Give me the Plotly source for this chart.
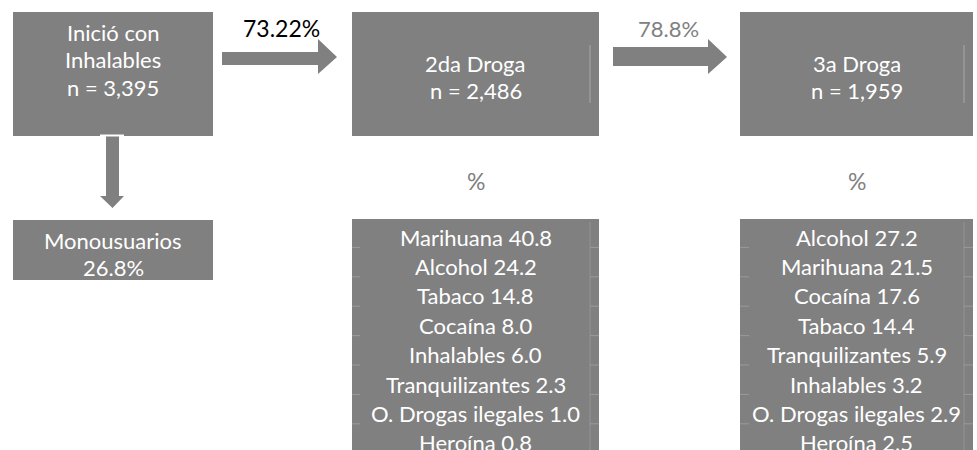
import plotly.graph_objects as go

# ---- data ----
start_lines = ["Inició con", "Inhalables", "n = 3,395"]
second_lines = ["2da Droga", "n = 2,486"]
third_lines = ["3a Droga", "n = 1,959"]
mono_lines = ["Monousuarios", "26.8%"]
pct_to_second = "73.22%"
pct_to_third = "78.8%"
second_drugs = ["Marihuana", "Alcohol", "Tabaco", "Cocaína", "Inhalables",
                "Tranquilizantes", "O. Drogas ilegales", "Heroína"]
second_vals = [40.8, 24.2, 14.8, 8.0, 6.0, 2.3, 1.0, 0.8]
third_drugs = ["Alcohol", "Marihuana", "Cocaína", "Tabaco", "Tranquilizantes",
               "Inhalables", "O. Drogas ilegales", "Heroína"]
third_vals = [27.2, 21.5, 17.6, 14.4, 5.9, 3.2, 2.9, 2.5]

W, H = 977, 450
BOX = "#808080"
FONT = "Lato"
FS = 22

fig = go.Figure()
fig.add_trace(go.Scatter(x=[0, W], y=[0, H], mode="markers",
                         marker=dict(opacity=0), hoverinfo="skip", showlegend=False))

shapes = []
ann = []

def rect(x0, y0, x1, y1, color=BOX):
    shapes.append(dict(type="rect", x0=x0, y0=y0, x1=x1, y1=y1, xref="x", yref="y",
                       fillcolor=color, line=dict(width=0), layer="below"))

def line(x0, y0, x1, y1, color="#a8a8a8", w=1):
    shapes.append(dict(type="line", x0=x0, y0=y0, x1=x1, y1=y1, xref="x", yref="y",
                       line=dict(color=color, width=w)))

def text(x, y, s, color="white", size=FS):
    ann.append(dict(x=x, y=y, xref="x", yref="y", text=s, showarrow=False,
                    font=dict(family=FONT, size=size, color=color),
                    xanchor="center", yanchor="middle"))

def path(d, color=BOX):
    shapes.append(dict(type="path", path=d, xref="x", yref="y",
                       fillcolor=color, line=dict(width=0)))

# Box 1
rect(13, 12, 213, 136)
for i, s in enumerate(start_lines):
    text(113, 32 + i * 27.5, s)

# Down arrow
path("M 106 136 L 119 136 L 119 196 L 124 196 L 112.5 208 L 100 196 L 106 196 Z")
line(100, 135.5, 124, 135.5, color="white", w=2)

# Monousuarios box
rect(13, 220, 213, 280)
for i, s in enumerate(mono_lines):
    text(113, 240 + i * 27, s)

# Right arrow 1
path("M 222 52 L 318 52 L 318 39 L 337 57 L 318 74 L 318 65 L 222 65 Z")
text(281, 28, pct_to_second, color="black", size=23)

# Box 2
rect(352, 12, 599, 136)
line(590, 45, 590, 103)
for i, s in enumerate(second_lines):
    text(475.5, 63 + i * 27, s)
text(475.5, 181, "%", color="#808080", size=23)

# Right arrow 2
path("M 613 47 L 708 47 L 708 39 L 727 57 L 708 74 L 708 66 L 613 66 Z")
text(668, 28, pct_to_third, color="#808080")

# Box 3
rect(740, 12, 973, 136)
line(964, 45, 964, 103)
for i, s in enumerate(third_lines):
    text(856.5, 63 + i * 27, s)
text(856.5, 181, "%", color="#808080", size=23)

# List boxes
rect(352, 219, 599, 452)
rect(740, 219, 973, 452)
line(590, 222, 590, 450, color="#939393")
line(964, 222, 964, 450, color="#939393")
for k in range(1, 8):
    yy = 219 + k * 29.4 - 1
    line(352, yy, 360, yy, color="#9a9a9a")
    line(590, yy, 599, yy, color="#9a9a9a")
    line(740, yy, 749, yy, color="#9a9a9a")
    line(964, yy, 973, yy, color="#9a9a9a")

for i, (d, v) in enumerate(zip(second_drugs, second_vals)):
    text(475.5, 237 + i * 29.4, f"{d} {v:.1f}")
for i, (d, v) in enumerate(zip(third_drugs, third_vals)):
    text(856.5, 237 + i * 29.4, f"{d} {v:.1f}")

fig.update_layout(
    width=W, height=H, margin=dict(l=0, r=0, t=0, b=0),
    paper_bgcolor="white", plot_bgcolor="white",
    xaxis=dict(range=[0, W], visible=False, fixedrange=True),
    yaxis=dict(range=[H, 0], visible=False, fixedrange=True),
    shapes=shapes, annotations=ann, showlegend=False,
)
fig.write_html("out.html", config={"displayModeBar": False},
               post_script="document.body.style.margin='0';document.body.style.overflow='hidden';")
